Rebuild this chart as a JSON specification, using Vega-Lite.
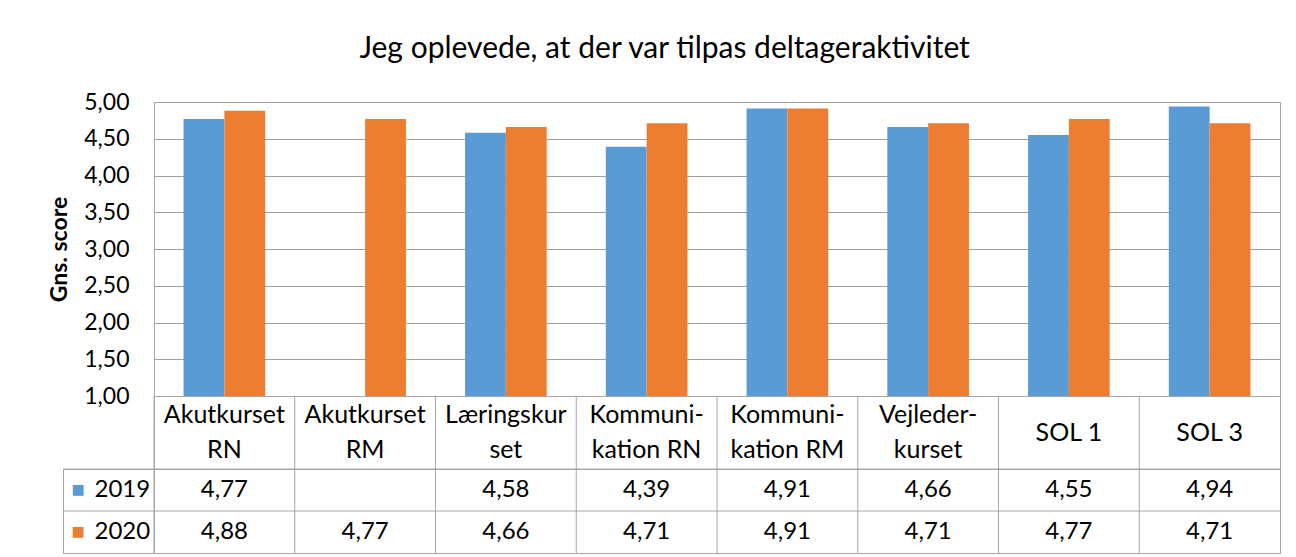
{
  "$schema": "https://vega.github.io/schema/vega-lite/v6.json",
  "padding": {"left": 48, "top": 33, "right": 16, "bottom": 4},
  "background": "white",
  "title": {"text": "Jeg oplevede, at der var tilpas deltageraktivitet", "fontSize": 30, "fontWeight": "normal", "color": "#000000", "anchor": "middle", "offset": 27},
  "config": {
    "font": "Lato",
    "locale": {"number": {"decimal": ",", "thousands": ".", "grouping": [3], "currency": ["", " kr."]}},
    "view": {"stroke": "#a6a6a6", "strokeWidth": 1}
  },
  "datasets": {
    "scores": [
      {"course": "Akutkurset\nRN", "year": "2019", "score": 4.77},
      {"course": "Akutkurset\nRN", "year": "2020", "score": 4.88},
      {"course": "Akutkurset\nRM", "year": "2020", "score": 4.77},
      {"course": "Læringskur\nset", "year": "2019", "score": 4.58},
      {"course": "Læringskur\nset", "year": "2020", "score": 4.66},
      {"course": "Kommuni-\nkation RN", "year": "2019", "score": 4.39},
      {"course": "Kommuni-\nkation RN", "year": "2020", "score": 4.71},
      {"course": "Kommuni-\nkation RM", "year": "2019", "score": 4.91},
      {"course": "Kommuni-\nkation RM", "year": "2020", "score": 4.91},
      {"course": "Vejleder-\nkurset", "year": "2019", "score": 4.66},
      {"course": "Vejleder-\nkurset", "year": "2020", "score": 4.71},
      {"course": "SOL 1", "year": "2019", "score": 4.55},
      {"course": "SOL 1", "year": "2020", "score": 4.77},
      {"course": "SOL 3", "year": "2019", "score": 4.94},
      {"course": "SOL 3", "year": "2020", "score": 4.71}
    ],
    "courses": [
      {"course": "Akutkurset\nRN"},
      {"course": "Akutkurset\nRM"},
      {"course": "Læringskur\nset"},
      {"course": "Kommuni-\nkation RN"},
      {"course": "Kommuni-\nkation RM"},
      {"course": "Vejleder-\nkurset"},
      {"course": "SOL 1"},
      {"course": "SOL 3"}
    ],
    "years": [
      {"year": "2019"},
      {"year": "2020"}
    ]
  },
  "columns": 2,
  "spacing": 0,
  "bounds": "flush",
  "concat": [
    {
      "width": 91, "height": 294,
      "data": {"values": []},
      "mark": {"type": "rect"},
      "encoding": {},
      "view": {"stroke": null}
    },
    {
      "width": 1126, "height": 294,
      "data": {"name": "scores"},
      "mark": {"type": "bar"},
      "encoding": {
        "x": {"field": "course", "type": "nominal", "sort": null,
              "scale": {"domain": ["Akutkurset\nRN", "Akutkurset\nRM", "Læringskur\nset", "Kommuni-\nkation RN", "Kommuni-\nkation RM", "Vejleder-\nkurset", "SOL 1", "SOL 3"], "paddingInner": 0.42, "paddingOuter": 0.21},
              "axis": null},
        "xOffset": {"field": "year", "type": "nominal", "scale": {"domain": ["2019", "2020"], "paddingInner": 0, "paddingOuter": 0}},
        "y": {"field": "score", "type": "quantitative",
              "scale": {"domain": [1, 5], "nice": false, "zero": false},
              "axis": {"values": [1, 1.5, 2, 2.5, 3, 3.5, 4, 4.5, 5], "format": ".2f", "title": "Gns. score",
                       "grid": true, "gridColor": "#a0a0a0", "ticks": false, "domain": false,
                       "labelFontSize": 23, "labelColor": "#000000", "labelPadding": 25,
                       "titleFontSize": 23, "titleFontWeight": "bold", "titleColor": "#000000", "titlePadding": 12}},
        "y2": {"datum": 1},
        "color": {"field": "year", "type": "nominal", "scale": {"domain": ["2019", "2020"], "range": ["#5B9BD5", "#ED7D31"]}, "legend": null}
      }
    },
    {
      "width": 91, "height": 73,
      "data": {"values": []},
      "mark": {"type": "rect"},
      "encoding": {},
      "view": {"stroke": null}
    },
    {
      "width": 1126, "height": 73,
      "data": {"name": "courses"},
      "encoding": {
        "x": {"field": "course", "type": "nominal", "sort": null,
              "scale": {"domain": ["Akutkurset\nRN", "Akutkurset\nRM", "Læringskur\nset", "Kommuni-\nkation RN", "Kommuni-\nkation RM", "Vejleder-\nkurset", "SOL 1", "SOL 3"], "paddingInner": 0, "paddingOuter": 0},
              "axis": null}
      },
      "layer": [
        {
          "mark": {"type": "rule", "color": "#a6a6a6", "strokeWidth": 1},
          "encoding": {
            "x": {"field": "course", "type": "nominal", "bandPosition": 0}
          }
        },
        {
          "transform": [{"filter": "indexof(datum.course, '\\n') >= 0"}],
          "mark": {"type": "text", "fontSize": 25, "lineHeight": 35, "lineBreak": "\n", "baseline": "middle", "dy": -17.5, "color": "#000000"},
          "encoding": {"text": {"field": "course", "type": "nominal"}}
        },
        {
          "transform": [{"filter": "indexof(datum.course, '\\n') < 0"}],
          "mark": {"type": "text", "fontSize": 25, "baseline": "middle", "color": "#000000"},
          "encoding": {"text": {"field": "course", "type": "nominal"}}
        }
      ]
    },
    {
      "width": 91, "height": 84,
      "data": {"name": "years"},
      "encoding": {
        "y": {"field": "year", "type": "nominal", "scale": {"domain": ["2019", "2020"], "paddingInner": 0, "paddingOuter": 0}, "axis": null}
      },
      "layer": [
        {
          "mark": {"type": "rule", "color": "#a6a6a6", "strokeWidth": 1},
          "encoding": {
            "y": {"field": "year", "type": "nominal", "bandPosition": 0}
          }
        },
        {
          "mark": {"type": "text", "text": "■", "font": "DejaVu Sans", "fontSize": 14, "baseline": "middle", "align": "center", "dx": -30.5},
          "encoding": {
            "color": {"field": "year", "type": "nominal", "scale": {"domain": ["2019", "2020"], "range": ["#5B9BD5", "#ED7D31"]}, "legend": null}
          }
        },
        {
          "mark": {"type": "text", "fontSize": 24, "align": "left", "baseline": "middle", "dx": -14, "color": "#000000"},
          "encoding": {
            "text": {"field": "year", "type": "nominal"}
          }
        }
      ]
    },
    {
      "width": 1126, "height": 84,
      "encoding": {
        "x": {"field": "course", "type": "nominal", "sort": null,
              "scale": {"domain": ["Akutkurset\nRN", "Akutkurset\nRM", "Læringskur\nset", "Kommuni-\nkation RN", "Kommuni-\nkation RM", "Vejleder-\nkurset", "SOL 1", "SOL 3"], "paddingInner": 0, "paddingOuter": 0},
              "axis": null}
      },
      "layer": [
        {
          "data": {"name": "courses"},
          "mark": {"type": "rule", "color": "#a6a6a6", "strokeWidth": 1},
          "encoding": {
            "x": {"field": "course", "type": "nominal", "bandPosition": 0}
          }
        },
        {
          "data": {"name": "years"},
          "mark": {"type": "rule", "color": "#a6a6a6", "strokeWidth": 1},
          "encoding": {
            "x": null,
            "y": {"field": "year", "type": "nominal", "bandPosition": 0,
                  "scale": {"domain": ["2019", "2020"], "paddingInner": 0, "paddingOuter": 0}, "axis": null}
          }
        },
        {
          "data": {"name": "scores"},
          "mark": {"type": "text", "fontSize": 24, "baseline": "middle", "color": "#000000"},
          "encoding": {
            "y": {"field": "year", "type": "nominal"},
            "text": {"field": "score", "type": "quantitative", "format": ".2f"}
          }
        }
      ]
    }
  ]
}
